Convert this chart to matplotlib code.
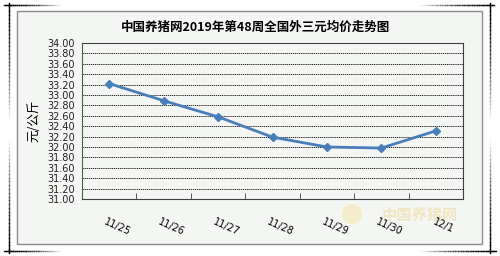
import matplotlib
matplotlib.use("Agg")
import matplotlib.pyplot as plt
from matplotlib.patches import Rectangle, Ellipse
from matplotlib.transforms import ScaledTranslation
import numpy as np

plt.rcParams['font.family'] = ['Noto Sans CJK SC', 'DejaVu Sans']

# данные
dates = ["11/25", "11/26", "11/27", "11/28", "11/29", "11/30", "12/1"]
prices = [33.22, 32.89, 32.58, 32.19, 32.00, 31.98, 32.31]
y_ticks = np.arange(31.0, 34.01, 0.2)

title = "中国养猪网2019年第48周全国外三元均价走势图"
ylabel = "元/公斤"
bg = "#F4F6F3"
line_color = "#4A7EBB"

fig = plt.figure(figsize=(5, 2.56), dpi=100)
fig.patch.set_facecolor("white")

W, H = 500., 256.
# рамка графика
fig.patches.append(Rectangle((17 / W, 1 - 244 / H), 465 / W, 233 / H,
                             transform=fig.transFigure, facecolor=bg,
                             edgecolor="#8C8C8C", linewidth=1.0, zorder=-2))


# декоративные уголки с затуханием
def fade_line(x0, y0, x1, y1, n=30):
    xs = np.linspace(x0, x1, n + 1)
    ys = np.linspace(y0, y1, n + 1)
    for i in range(n):
        a = 1 - i / n
        fig.add_artist(plt.Line2D([xs[i] / W, xs[i + 1] / W],
                                  [1 - ys[i] / H, 1 - ys[i + 1] / H],
                                  transform=fig.transFigure, color="black",
                                  alpha=a, linewidth=1.0, zorder=-1))


fade_line(4, 5, 60, 5)
fade_line(9, 3, 9, 120)
fade_line(494, 5, 420, 5)
fade_line(490, 3, 490, 120)
fade_line(4, 251, 60, 251)
fade_line(9, 253, 9, 140)
fade_line(496, 251, 420, 251)
fade_line(490, 253, 490, 140)

# водяной знак
fig.patches.append(Ellipse((352 / W, 1 - 214 / H), 20 / W, 20 / H,
                           transform=fig.transFigure, facecolor="#F3E7B0",
                           edgecolor="none", alpha=0.6, zorder=-1))
fig.text(420 / W, 1 - 215 / H, "中国养猪网", fontsize=11, fontweight="bold",
         color="#EEDB9E", alpha=0.6, ha="center", va="center", zorder=-1)

ax = fig.add_axes([82 / W, 1 - 199 / H, 381 / W, 156 / H])
ax.set_facecolor(bg)

x = np.arange(len(dates))
ax.plot(x, prices, color=line_color, linewidth=2, marker="D",
        markersize=4, zorder=3)

ax.set_xlim(-0.5, len(dates) - 0.5)
ax.set_ylim(31.0, 34.0)
ax.set_yticks(y_ticks)
ax.set_yticklabels(["%.2f" % v for v in y_ticks], fontsize=7,
                   family="DejaVu Sans")
ax.tick_params(axis="y", length=0, pad=5, colors="#222222")

ax.set_xticks(x)
ax.set_xticklabels(dates, fontsize=7, rotation=-24, ha="center",
                   va="top", family="DejaVu Sans")
ax.set_xticks(np.arange(0.5, len(dates) - 0.5, 1), minor=True)
ax.tick_params(axis="x", which="major", length=0, pad=13)
ax.tick_params(axis="x", which="minor", length=4, direction="in",
               color="#404040")
off = ScaledTranslation(8 / 100, 0, fig.dpi_scale_trans)
for lab in ax.get_xticklabels():
    lab.set_transform(lab.get_transform() + off)

ax.grid(axis="y", color="black", linestyle=(0, (1.5, 1)), linewidth=0.6)
ax.set_axisbelow(True)
for s in ["top", "right", "bottom"]:
    ax.spines[s].set_color("#404040")
    ax.spines[s].set_linewidth(0.8)
ax.spines["left"].set_color("#3D6B3D")
ax.spines["left"].set_linewidth(0.8)

fig.text(34 / W, 1 - 121 / H, ylabel, fontsize=9, rotation=90,
         ha="center", va="center")
fig.text(255 / W, 1 - 27 / H, title, fontsize=9, fontweight="bold",
         ha="center", va="center")

fig.savefig("out.png", dpi=100, facecolor=fig.get_facecolor())
